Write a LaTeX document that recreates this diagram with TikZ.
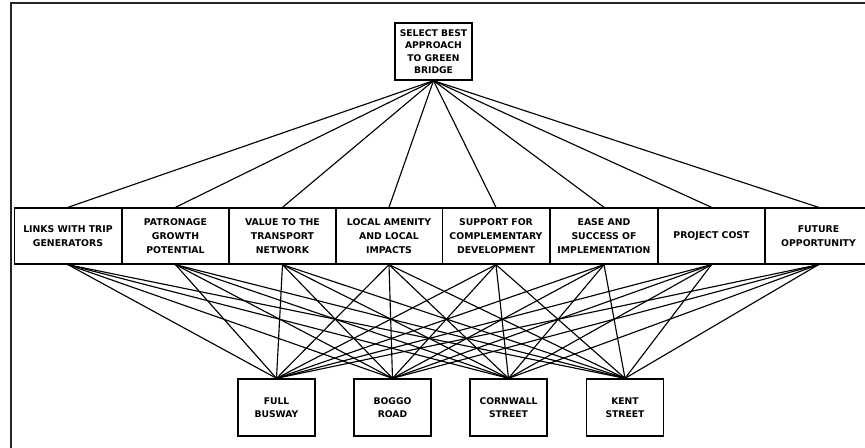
\documentclass[tikz,border=0pt]{standalone}
\usepackage{fontspec}
\setmainfont{DejaVu Sans}
\begin{document}
\begin{tikzpicture}[x=0.75pt,y=-0.75pt,
  crit/.style={draw=black,line width=1pt,inner sep=0pt,align=center,
    minimum width=80.25pt,minimum height=42pt,
    font=\bfseries\fontsize{7}{10.4}\selectfont},
  small/.style={draw=black,line width=1pt,inner sep=0pt,align=center,
    minimum width=57.75pt,minimum height=42.75pt,
    font=\bfseries\fontsize{6.9}{9.4}\selectfont},
  link/.style={line width=0.85pt,black}]
\useasboundingbox (0,0) rectangle (865,448);
\clip (0,0) rectangle (865,448);
% outer frame (left and top edges)
\draw[line width=1.6pt,black!85] (11,452) -- (11,3) -- (870,3);
% goal
\node[small] (top) at (433.5,51.5) {SELECT BEST\\APPROACH\\TO GREEN\\BRIDGE};
% criteria
\node[crit] (c1) at (68,236) {LINKS WITH TRIP\\GENERATORS};
\node[crit] (c2) at (175.5,236) {PATRONAGE\\GROWTH\\POTENTIAL};
\node[crit] (c3) at (282.5,236) {VALUE TO THE\\TRANSPORT\\NETWORK};
\node[crit] (c4) at (389,236) {LOCAL AMENITY\\AND LOCAL\\IMPACTS};
\node[crit] (c5) at (496,236) {SUPPORT FOR\\COMPLEMENTARY\\DEVELOPMENT};
\node[crit] (c6) at (604,236) {EASE AND\\SUCCESS OF\\IMPLEMENTATION};
\node[crit] (c7) at (711.5,236) {PROJECT COST};
\node[crit] (c8) at (818.5,236) {FUTURE\\OPPORTUNITY};
% alternatives
\node[small] (a1) at (276.5,407.5) {FULL\\BUSWAY};
\node[small] (a2) at (392.5,407.5) {BOGGO\\ROAD};
\node[small] (a3) at (508.5,407.5) {CORNWALL\\STREET};
\node[small] (a4) at (625,407.5) {KENT\\STREET};
% connectors
\foreach \c in {c1,c2,c3,c4,c5,c6,c7,c8}{
  \draw[link] (top.south) -- (\c.north);
  \foreach \a in {a1,a2,a3,a4}{
    \draw[link] (\c.south) -- (\a.north);
  }
}
\end{tikzpicture}
\end{document}
